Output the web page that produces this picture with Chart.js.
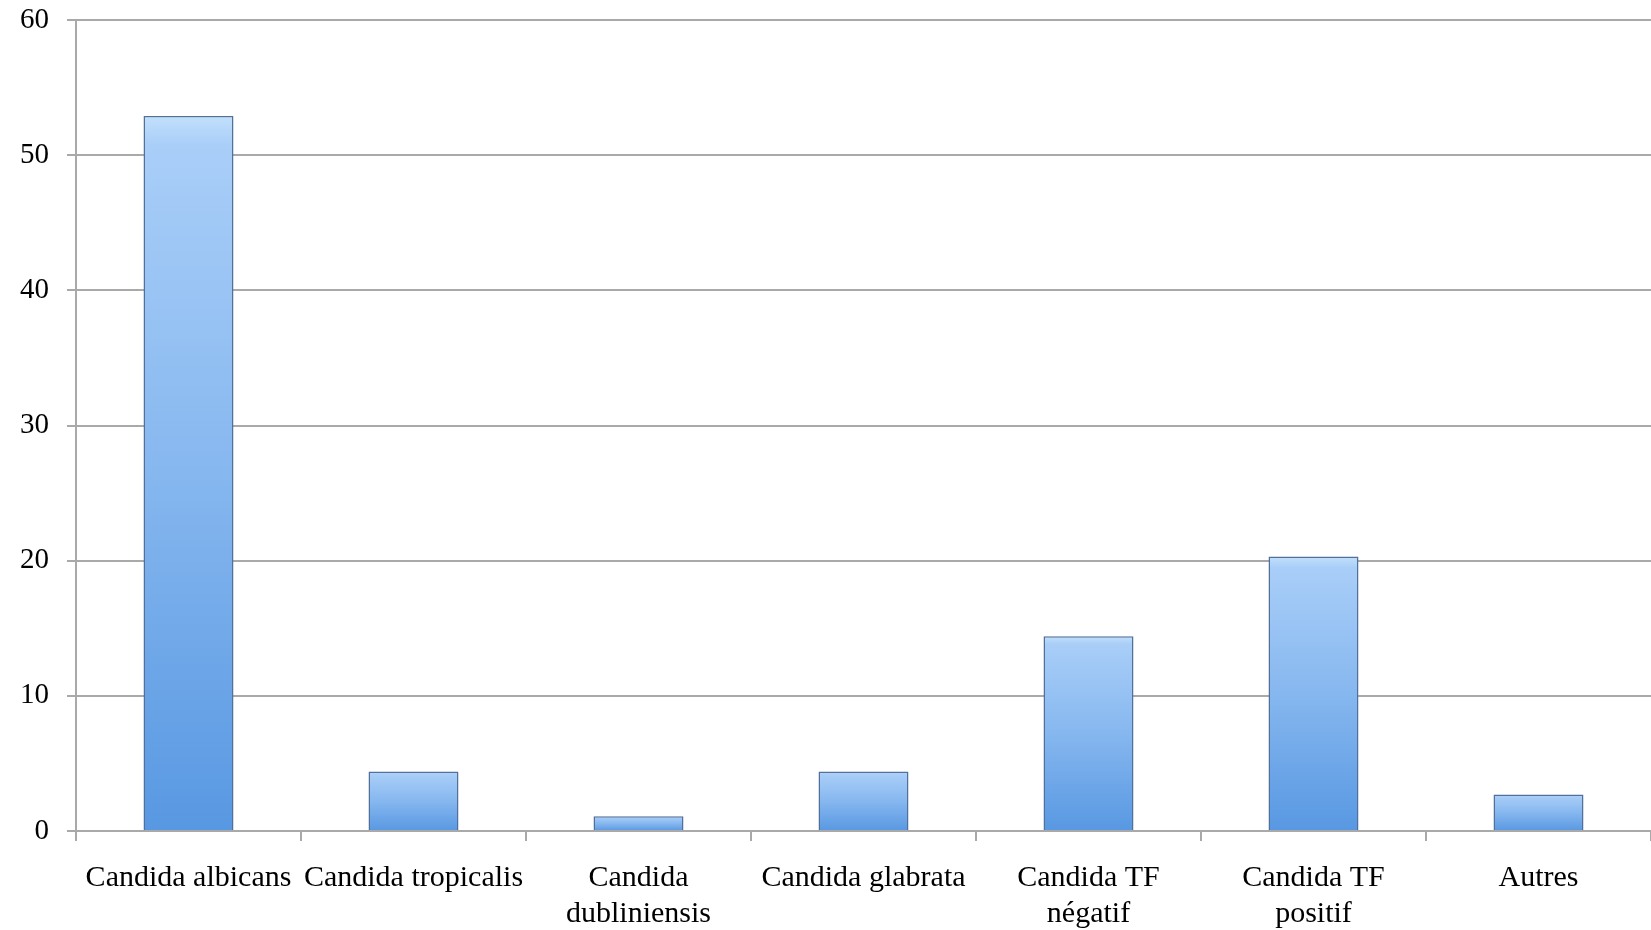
<!DOCTYPE html>
<html>
<head>
<meta charset="utf-8">
<script src="https://cdn.jsdelivr.net/npm/chart.js@4/dist/chart.umd.min.js"></script>
<style>
  body { margin: 0; background: #fff; }
  #wrap { width: 1651px; height: 930px; }
</style>
</head>
<body>
<div id="wrap"><canvas id="candidaChart" width="1651" height="930"></canvas></div>
<script>
// categories and values
const categories = [
    'Candida albicans',
    'Candida tropicalis',
    ['Candida', 'dubliniensis'],
    'Candida glabrata',
    ['Candida TF', 'négatif'],
    ['Candida TF', 'positif'],
    'Autres'
];
const values = [52.9, 4.4, 1.1, 4.4, 14.4, 20.3, 2.7];
const yTicks = [0, 10, 20, 30, 40, 50, 60];

const gridColor = '#a9a9a9';

// each bar gets its own light-to-dark gradient
function barGradient(context) {
    const chart = context.chart;
    const { ctx, chartArea, scales } = chart;
    if (!chartArea) return '#6aa6e8';
    const top = scales.y.getPixelForValue(context.raw);
    const base = scales.y.getPixelForValue(0);
    const g = ctx.createLinearGradient(0, top, 0, base);
    g.addColorStop(0, '#c2e0fb');
    g.addColorStop(0.04, '#a9cef8');
    g.addColorStop(0.5, '#86b7ef');
    g.addColorStop(1, '#5898e2');
    return g;
}

const ctx = document.getElementById('candidaChart').getContext('2d');
const candidaChart = new Chart(ctx, {
    type: 'bar',
    data: {
        labels: categories,
        datasets: [{
            data: values,
            backgroundColor: barGradient,
            borderColor: '#52709a',
            borderWidth: 1.5,
            categoryPercentage: 0.8,
            barPercentage: 0.5
        }]
    },
    options: {
        responsive: false,
        animation: false,
        layout: { padding: { left: 20, top: 20, right: 0, bottom: 0 } },
        plugins: {
            legend: { display: false },
            tooltip: { enabled: false }
        },
        scales: {
            x: {
                offset: true,
                afterFit: axis => {
                    axis.height = 99;
                    axis.paddingLeft = 0;
                    axis.paddingRight = 0;
                },
                grid: {
                    offset: true,
                    drawOnChartArea: false,
                    color: gridColor,
                    lineWidth: 2,
                    tickLength: 10
                },
                border: { color: gridColor, width: 2 },
                ticks: {
                    color: '#000',
                    padding: 19,
                    maxRotation: 0,
                    autoSkip: false,
                    font: { family: '"Liberation Serif", serif', size: 30, lineHeight: 1.2 }
                }
            },
            y: {
                min: 0,
                max: 60,
                afterBuildTicks: axis => { axis.ticks = yTicks.map(v => ({ value: v })); },
                afterFit: axis => {
                    axis.width = 56;
                    axis.paddingTop = 0;
                    axis.paddingBottom = 0;
                },
                grid: {
                    color: gridColor,
                    lineWidth: 2,
                    tickLength: 9
                },
                border: { color: gridColor, width: 2 },
                ticks: {
                    color: '#000',
                    padding: 18,
                    font: { family: '"Liberation Serif", serif', size: 29 }
                }
            }
        }
    }
});
</script>
</body>
</html>
